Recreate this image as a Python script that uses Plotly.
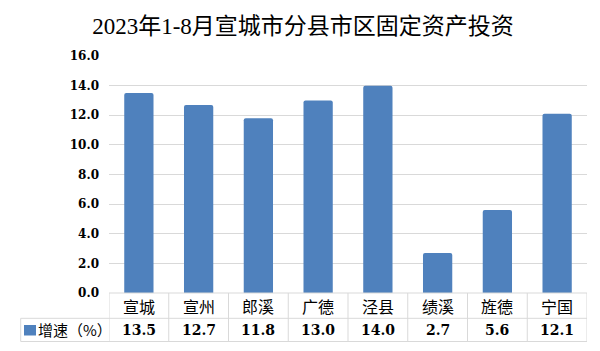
import plotly.graph_objects as go

title_text = "2023年1-8月宣城市分县市区固定资产投资"
categories = ["宣城", "宣州", "郎溪", "广德", "泾县", "绩溪", "旌德", "宁国"]
values = [13.5, 12.7, 11.8, 13.0, 14.0, 2.7, 5.6, 12.1]
series_name = "增速（%）"
y_ticks = [0, 2, 4, 6, 8, 10, 12, 14, 16]

BAR = "#4f81bd"
GRID = "#d9d9d9"
NUM_FONT = "DejaVu Serif"
CJK_FONT = "Noto Sans CJK SC"

W, H = 600, 351
ML, MR, MT, MB = 109, 13, 56, 58
PW, PH = W - ML - MR, H - MT - MB

def py(pix):
    return (H - MB - pix) / PH

def px(pix):
    return (pix - ML) / PW

fig = go.Figure()
fig.add_trace(go.Bar(
    x=categories, y=values, name=series_name,
    marker=dict(color=BAR, line=dict(width=0), cornerradius=2),
    showlegend=False, hoverinfo="x+y",
))

y_row1 = py(318.3)
y_row2 = py(341.5)
x_left = px(20.7)

shapes = []
shapes.append(dict(type="line", xref="paper", yref="paper", x0=0, x1=1, y0=0, y1=0,
                   line=dict(color=GRID, width=1)))
for yy in (y_row1, y_row2):
    shapes.append(dict(type="line", xref="paper", yref="paper", x0=x_left, x1=1, y0=yy, y1=yy,
                       line=dict(color=GRID, width=1)))
for i in range(len(categories) + 1):
    shapes.append(dict(type="line", xref="x", yref="paper", x0=i - 0.5, x1=i - 0.5,
                       y0=0, y1=y_row2, line=dict(color=GRID, width=1)))
shapes.append(dict(type="line", xref="paper", yref="paper", x0=x_left, x1=x_left,
                   y0=y_row1, y1=y_row2, line=dict(color=GRID, width=1)))
shapes.append(dict(type="rect", xref="paper", yref="paper",
                   x0=px(24), x1=px(36), y0=py(335.5), y1=py(325),
                   fillcolor=BAR, line=dict(width=0)))

annotations = []
for c, v in zip(categories, values):
    annotations.append(dict(x=c, xref="x", y=(0 + y_row1) / 2, yref="paper",
                            text=c, showarrow=False, xanchor="center", yanchor="middle",
                            font=dict(family=CJK_FONT, size=16, color="#000000")))
    annotations.append(dict(x=c, xref="x", y=(y_row1 + y_row2) / 2, yref="paper",
                            text=f"<b>{v:.1f}</b>", showarrow=False, xanchor="center", yanchor="middle",
                            font=dict(family=NUM_FONT, size=14, color="#000000")))
annotations.append(dict(x=px(36), xref="paper", y=(y_row1 + y_row2) / 2, yref="paper",
                        text=series_name, showarrow=False, xanchor="left", yanchor="middle",
                        font=dict(family=CJK_FONT, size=15, color="#000000")))

fig.update_layout(
    width=W, height=H,
    margin=dict(l=ML, r=MR, t=MT, b=MB),
    paper_bgcolor="white", plot_bgcolor="white",
    title=dict(text=title_text, x=303 / W, xanchor="center", y=1 - 26 / H, yanchor="middle",
               font=dict(family="Liberation Serif, " + CJK_FONT, size=23, color="#000000")),
    bargap=0.51,
    shapes=shapes,
    annotations=annotations,
    xaxis=dict(showticklabels=False, showgrid=False, zeroline=False, showline=False,
               range=[-0.5, len(categories) - 0.5], fixedrange=True),
    yaxis=dict(range=[0, 16], tickvals=y_ticks, ticktext=[f"<b>{t:.1f}</b>" for t in y_ticks],
               showgrid=True, gridcolor=GRID, gridwidth=1, zeroline=False, showline=False,
               ticklabelstandoff=9,
               tickfont=dict(family=NUM_FONT, size=12, color="#000000"), fixedrange=True),
)

fig.write_html("out.html")
